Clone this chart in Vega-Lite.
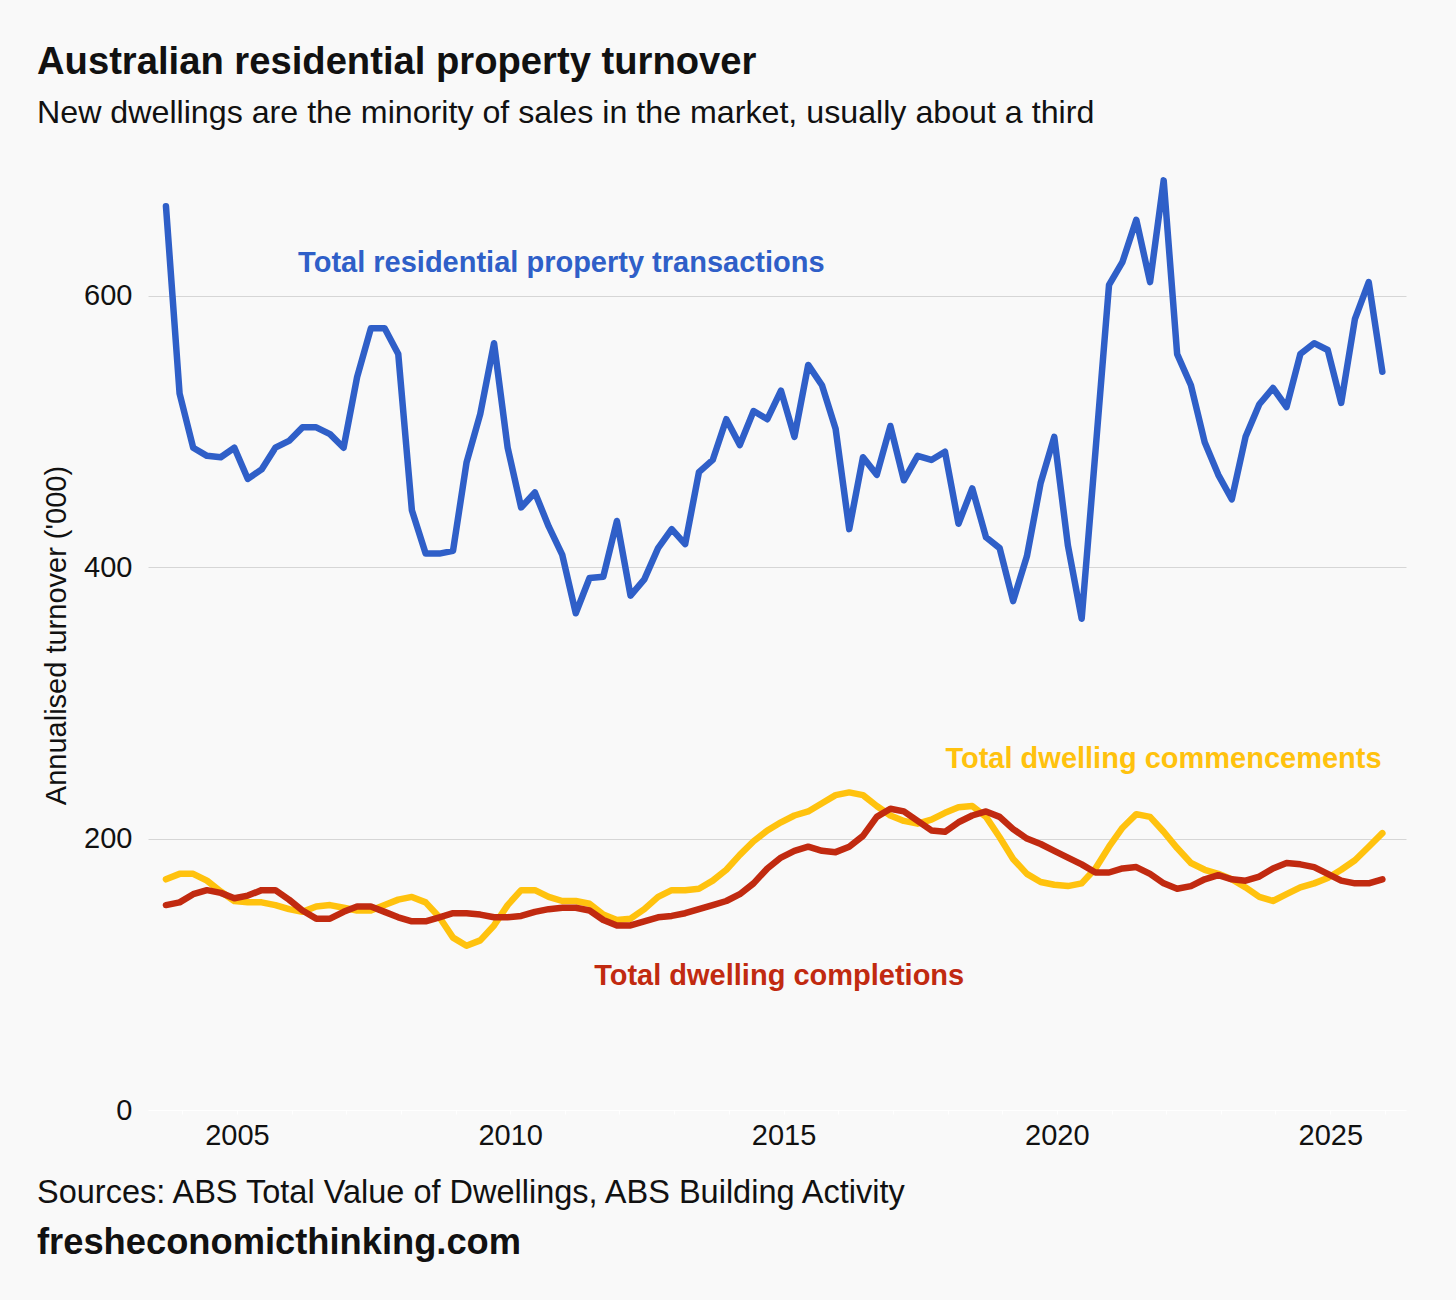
{
  "$schema": "https://vega.github.io/schema/vega-lite/v6.json",
  "background": "#f9f9f9",
  "padding": {"left": 37, "top": 42, "right": 50, "bottom": 41},
  "config": {"font": "Liberation Sans", "view": {"stroke": null}},
  "title": {
    "text": "Sources: ABS Total Value of Dwellings, ABS Building Activity",
    "subtitle": "fresheconomicthinking.com",
    "orient": "bottom", "anchor": "start", "frame": "group", "dx": -111,
    "fontSize": 32.5, "fontWeight": "normal", "color": "#111111",
    "subtitleFontSize": 36.3, "subtitleFontWeight": "bold", "subtitleColor": "#111111",
    "offset": 27, "subtitlePadding": 15
  },
  "vconcat": [
    {
      "width": 1258,
      "height": 950,
      "title": {
        "text": "Australian residential property turnover",
        "subtitle": "New dwellings are the minority of sales in the market, usually about a third",
        "anchor": "start", "frame": "group", "dx": -111,
        "fontSize": 38.2, "fontWeight": "bold", "color": "#111111",
        "subtitleFontSize": 32.2, "subtitleColor": "#111111", "subtitlePadding": 16,
        "offset": 30
      },
      "data": {"values": [
        {"date": "2003-09-15", "transactions": 666, "commencements": 170, "completions": 151},
        {"date": "2003-12-15", "transactions": 528, "commencements": 174, "completions": 153},
        {"date": "2004-03-15", "transactions": 488, "commencements": 174, "completions": 159},
        {"date": "2004-06-15", "transactions": 482, "commencements": 169, "completions": 162},
        {"date": "2004-09-15", "transactions": 481, "commencements": 161, "completions": 160},
        {"date": "2004-12-15", "transactions": 488, "commencements": 154, "completions": 156},
        {"date": "2005-03-15", "transactions": 465, "commencements": 153, "completions": 158},
        {"date": "2005-06-15", "transactions": 472, "commencements": 153, "completions": 162},
        {"date": "2005-09-15", "transactions": 488, "commencements": 151, "completions": 162},
        {"date": "2005-12-15", "transactions": 493, "commencements": 148, "completions": 155},
        {"date": "2006-03-15", "transactions": 503, "commencements": 146, "completions": 147},
        {"date": "2006-06-15", "transactions": 503, "commencements": 150, "completions": 141},
        {"date": "2006-09-15", "transactions": 498, "commencements": 151, "completions": 141},
        {"date": "2006-12-15", "transactions": 488, "commencements": 149, "completions": 146},
        {"date": "2007-03-15", "transactions": 540, "commencements": 147, "completions": 150},
        {"date": "2007-06-15", "transactions": 576, "commencements": 147, "completions": 150},
        {"date": "2007-09-15", "transactions": 576, "commencements": 151, "completions": 146},
        {"date": "2007-12-15", "transactions": 557, "commencements": 155, "completions": 142},
        {"date": "2008-03-15", "transactions": 442, "commencements": 157, "completions": 139},
        {"date": "2008-06-15", "transactions": 410, "commencements": 153, "completions": 139},
        {"date": "2008-09-15", "transactions": 410, "commencements": 142, "completions": 142},
        {"date": "2008-12-15", "transactions": 412, "commencements": 127, "completions": 145},
        {"date": "2009-03-15", "transactions": 477, "commencements": 121, "completions": 145},
        {"date": "2009-06-15", "transactions": 513, "commencements": 125, "completions": 144},
        {"date": "2009-09-15", "transactions": 565, "commencements": 136, "completions": 142},
        {"date": "2009-12-15", "transactions": 488, "commencements": 151, "completions": 142},
        {"date": "2010-03-15", "transactions": 444, "commencements": 162, "completions": 143},
        {"date": "2010-06-15", "transactions": 455, "commencements": 162, "completions": 146},
        {"date": "2010-09-15", "transactions": 430, "commencements": 157, "completions": 148},
        {"date": "2010-12-15", "transactions": 409, "commencements": 154, "completions": 149},
        {"date": "2011-03-15", "transactions": 366, "commencements": 154, "completions": 149},
        {"date": "2011-06-15", "transactions": 392, "commencements": 152, "completions": 147},
        {"date": "2011-09-15", "transactions": 393, "commencements": 144, "completions": 140},
        {"date": "2011-12-15", "transactions": 434, "commencements": 140, "completions": 136},
        {"date": "2012-03-15", "transactions": 379, "commencements": 141, "completions": 136},
        {"date": "2012-06-15", "transactions": 391, "commencements": 148, "completions": 139},
        {"date": "2012-09-15", "transactions": 414, "commencements": 157, "completions": 142},
        {"date": "2012-12-15", "transactions": 428, "commencements": 162, "completions": 143},
        {"date": "2013-03-15", "transactions": 417, "commencements": 162, "completions": 145},
        {"date": "2013-06-15", "transactions": 470, "commencements": 163, "completions": 148},
        {"date": "2013-09-15", "transactions": 479, "commencements": 169, "completions": 151},
        {"date": "2013-12-15", "transactions": 509, "commencements": 177, "completions": 154},
        {"date": "2014-03-15", "transactions": 490, "commencements": 188, "completions": 159},
        {"date": "2014-06-15", "transactions": 515, "commencements": 198, "completions": 167},
        {"date": "2014-09-15", "transactions": 509, "commencements": 206, "completions": 178},
        {"date": "2014-12-15", "transactions": 530, "commencements": 212, "completions": 186},
        {"date": "2015-03-15", "transactions": 496, "commencements": 217, "completions": 191},
        {"date": "2015-06-15", "transactions": 549, "commencements": 220, "completions": 194},
        {"date": "2015-09-15", "transactions": 534, "commencements": 226, "completions": 191},
        {"date": "2015-12-15", "transactions": 502, "commencements": 232, "completions": 190},
        {"date": "2016-03-15", "transactions": 428, "commencements": 234, "completions": 194},
        {"date": "2016-06-15", "transactions": 481, "commencements": 232, "completions": 202},
        {"date": "2016-09-15", "transactions": 468, "commencements": 224, "completions": 216},
        {"date": "2016-12-15", "transactions": 504, "commencements": 217, "completions": 222},
        {"date": "2017-03-15", "transactions": 464, "commencements": 213, "completions": 220},
        {"date": "2017-06-15", "transactions": 482, "commencements": 211, "completions": 213},
        {"date": "2017-09-15", "transactions": 479, "commencements": 214, "completions": 206},
        {"date": "2017-12-15", "transactions": 485, "commencements": 219, "completions": 205},
        {"date": "2018-03-15", "transactions": 432, "commencements": 223, "completions": 212},
        {"date": "2018-06-15", "transactions": 458, "commencements": 224, "completions": 217},
        {"date": "2018-09-15", "transactions": 422, "commencements": 216, "completions": 220},
        {"date": "2018-12-15", "transactions": 414, "commencements": 201, "completions": 216},
        {"date": "2019-03-15", "transactions": 375, "commencements": 185, "completions": 207},
        {"date": "2019-06-15", "transactions": 408, "commencements": 174, "completions": 200},
        {"date": "2019-09-15", "transactions": 462, "commencements": 168, "completions": 196},
        {"date": "2019-12-15", "transactions": 496, "commencements": 166, "completions": 191},
        {"date": "2020-03-15", "transactions": 416, "commencements": 165, "completions": 186},
        {"date": "2020-06-15", "transactions": 362, "commencements": 167, "completions": 181},
        {"date": "2020-09-15", "transactions": 485, "commencements": 178, "completions": 175},
        {"date": "2020-12-15", "transactions": 608, "commencements": 194, "completions": 175},
        {"date": "2021-03-15", "transactions": 625, "commencements": 208, "completions": 178},
        {"date": "2021-06-15", "transactions": 656, "commencements": 218, "completions": 179},
        {"date": "2021-09-15", "transactions": 610, "commencements": 216, "completions": 174},
        {"date": "2021-12-15", "transactions": 685, "commencements": 205, "completions": 167},
        {"date": "2022-03-15", "transactions": 557, "commencements": 193, "completions": 163},
        {"date": "2022-06-15", "transactions": 534, "commencements": 182, "completions": 165},
        {"date": "2022-09-15", "transactions": 492, "commencements": 177, "completions": 170},
        {"date": "2022-12-15", "transactions": 468, "commencements": 174, "completions": 173},
        {"date": "2023-03-15", "transactions": 450, "commencements": 170, "completions": 170},
        {"date": "2023-06-15", "transactions": 496, "commencements": 164, "completions": 169},
        {"date": "2023-09-15", "transactions": 520, "commencements": 157, "completions": 172},
        {"date": "2023-12-15", "transactions": 532, "commencements": 154, "completions": 178},
        {"date": "2024-03-15", "transactions": 518, "commencements": 159, "completions": 182},
        {"date": "2024-06-15", "transactions": 557, "commencements": 164, "completions": 181},
        {"date": "2024-09-15", "transactions": 565, "commencements": 167, "completions": 179},
        {"date": "2024-12-15", "transactions": 560, "commencements": 171, "completions": 174},
        {"date": "2025-03-15", "transactions": 521, "commencements": 177, "completions": 169},
        {"date": "2025-06-15", "transactions": 583, "commencements": 184, "completions": 167},
        {"date": "2025-09-15", "transactions": 610, "commencements": 194, "completions": 167},
        {"date": "2025-12-15", "transactions": 544, "commencements": 204, "completions": 170}
      ]},
      "encoding": {
        "x": {
          "field": "date", "type": "temporal",
          "scale": {"domain": [{"year": 2003, "month": 5, "date": 18}, {"year": 2026, "month": 5, "date": 22}], "nice": false},
          "axis": {
            "title": null,
            "tickCount": {"interval": "year", "step": 1},
            "labelExpr": "year(datum.value) % 5 === 0 ? timeFormat(datum.value, '%Y') : ''",
            "labelFontSize": 29, "labelColor": "#111111", "labelPadding": 7,
            "ticks": true, "tickColor": "#ffffff", "tickSize": 4,
            "domain": true, "domainColor": "#ffffff", "domainWidth": 1,
            "grid": false, "labelFlush": false, "labelOverlap": false
          }
        }
      },
      "layer": [
        {
          "mark": {"type": "line", "color": "#ffc20e", "strokeWidth": 6.5, "strokeCap": "round", "strokeJoin": "round"},
          "encoding": {
            "y": {
              "field": "commencements", "type": "quantitative",
              "scale": {"domain": [0, 700], "nice": false},
              "axis": {
                "title": "Annualised turnover ('000)",
                "titleFontSize": 29, "titleFontWeight": "normal", "titleColor": "#111111", "titlePadding": 12,
                "values": [0, 200, 400, 600],
                "labelFontSize": 29, "labelColor": "#111111", "labelPadding": 16,
                "ticks": false, "domain": false,
                "grid": true,
                "gridColor": {"condition": {"test": "datum.value === 0", "value": "#f9f9f9"}, "value": "#d6d6d6"},
                "gridWidth": 1
              }
            }
          }
        },
        {
          "mark": {"type": "line", "color": "#c12a10", "strokeWidth": 6.5, "strokeCap": "round", "strokeJoin": "round"},
          "encoding": {"y": {"field": "completions", "type": "quantitative"}}
        },
        {
          "mark": {"type": "line", "color": "#2f5fc8", "strokeWidth": 6.5, "strokeCap": "round", "strokeJoin": "round"},
          "encoding": {"y": {"field": "transactions", "type": "quantitative"}}
        },
        {
          "data": {"values": [{"date": "2006-02-14", "v": 624, "label": "Total residential property transactions"}]},
          "mark": {"type": "text", "align": "left", "baseline": "middle", "fontSize": 29, "fontWeight": "bold", "color": "#2f5fc8"},
          "encoding": {"y": {"field": "v", "type": "quantitative"}, "text": {"field": "label"}}
        },
        {
          "data": {"values": [{"date": "2025-12-10", "v": 259, "label": "Total dwelling commencements"}]},
          "mark": {"type": "text", "align": "right", "baseline": "middle", "fontSize": 29, "fontWeight": "bold", "color": "#ffc20e"},
          "encoding": {"y": {"field": "v", "type": "quantitative"}, "text": {"field": "label"}}
        },
        {
          "data": {"values": [{"date": "2011-07-16", "v": 99, "label": "Total dwelling completions"}]},
          "mark": {"type": "text", "align": "left", "baseline": "middle", "fontSize": 29, "fontWeight": "bold", "color": "#c12a10"},
          "encoding": {"y": {"field": "v", "type": "quantitative"}, "text": {"field": "label"}}
        }
      ]
    }
  ]
}
